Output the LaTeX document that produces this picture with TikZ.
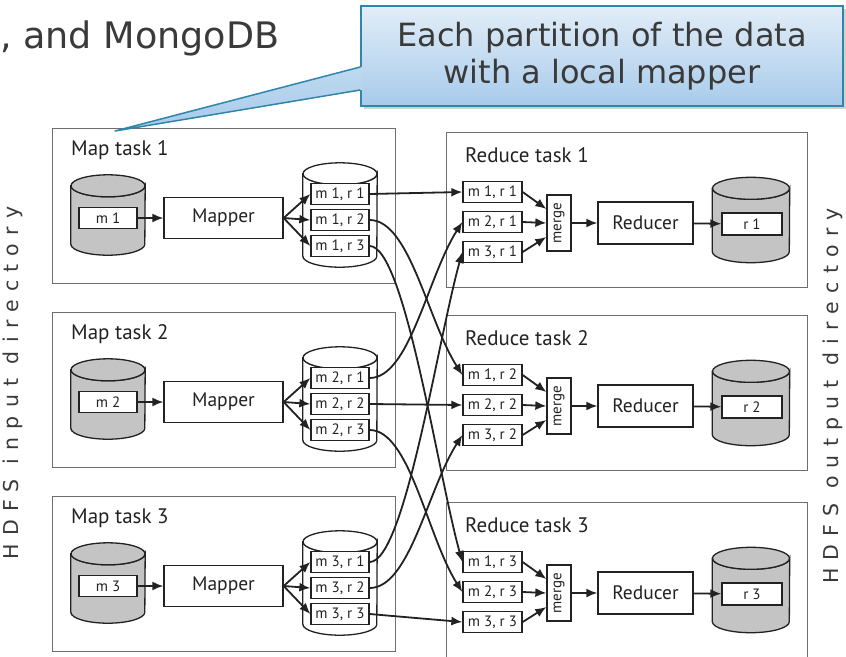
\documentclass[tikz,border=0pt]{standalone}
\usepackage{fontspec}
\setmainfont{PT Sans}
\newfontfamily\slidefont{DejaVu Sans}
\newfontfamily\dirfont[LetterSpace=40]{DejaVu Sans}
\usepackage{tikz}
\usetikzlibrary{arrows.meta,shadows,calc}

\definecolor{ink}{HTML}{222222}
\definecolor{framegray}{HTML}{6E6E6E}
\definecolor{diskgray}{HTML}{C4C4C4}
\definecolor{calloutline}{HTML}{2E86AB}
\definecolor{callouttop}{HTML}{E2EDF8}
\definecolor{calloutbot}{HTML}{A7CBEA}
\definecolor{slidetext}{HTML}{3A3A3A}

% disk drum round a node: #1 node, #2 fill, #3 half width
\newcommand{\diskbody}[3]{%
  \draw[diskline, fill=#2] ($(#1.north west)+(0,11)$) -- ($(#1.south west)+(0,-11)$)
    arc[start angle=180, end angle=0, x radius=#3, y radius=11]
    -- ($(#1.north east)+(0,11)$)
    arc[start angle=0, end angle=180, x radius=#3, y radius=11] -- cycle;
  \draw[diskline, fill=#2] ($(#1.north)+(0,11)$) ellipse [x radius=#3, y radius=11];
}

\begin{document}
\begin{tikzpicture}[
    x=1pt, y=-1pt,
    taskframe/.style={draw=framegray, line width=1.1pt, anchor=north west, minimum width=343pt, minimum height=155pt, inner sep=0pt},
    tasklabel/.style={anchor=west, font=\fontsize{21}{24}\selectfont, text=ink, inner sep=0pt},
    diskspot/.style={inner sep=0pt, minimum width=74pt, minimum height=80pt},
    diskline/.style={draw=ink, line width=1.3pt},
    part/.style={draw=ink, line width=1.3pt, fill=white, minimum width=58pt, minimum height=21pt, inner sep=0pt, font=\fontsize{15}{17}\selectfont, text=ink},
    worker/.style={draw=ink, line width=1.3pt, fill=white, minimum width=119pt, minimum height=41pt, inner sep=0pt, font=\fontsize{19.5}{22}\selectfont, text=ink},
    mergebox/.style={draw=ink, line width=1.3pt, fill=white, minimum width=24pt, minimum height=56pt, inner sep=0pt},
    flow/.style={draw=ink, line width=1.8pt, -{Latex[length=11pt, width=9pt]}},
    dirlabel/.style={rotate=90, font=\dirfont\fontsize{20.5}{24}\selectfont, text=slidetext, inner sep=0pt},
    notebox/.style={draw=calloutline, line width=1.5pt, top color=callouttop, bottom color=calloutbot,
      drop shadow={shadow xshift=3pt, shadow yshift=-3pt, opacity=0.35},
      minimum width=482pt, minimum height=100pt, align=center,
      font=\slidefont\fontsize{32}{37}\selectfont, text=slidetext}
]
\useasboundingbox[fill=white] (0,0) rectangle (846,656);

% slide title remnant and input / output directory labels
\node[font=\slidefont\fontsize{36.5}{40}\selectfont, text=slidetext, anchor=base west, inner sep=0pt] (slidetitle) at (0,48) {, and MongoDB};
\node[dirlabel] (indir) at (13,383) {HDFS input directory};
\node[dirlabel] (outdir) at (833,396) {HDFS output directory};

% Map tasks
\foreach \i/\dy in {1/0, 2/184, 3/368} {
  \node[taskframe] (map\i) at (52,128+\dy) {};
  \node[tasklabel] (maplabel\i) at (71,150+\dy) {Map task \i};
  \node[diskspot] (indisk\i) at (108,215+\dy) {};
  \diskbody{indisk\i}{diskgray}{37}
  \node[part] (inpart\i) at (108,218+\dy) {m \i};
  \node[worker] (mapper\i) at (223.5,218+\dy) {Mapper};
  \node[diskspot, minimum height=104pt] (spill\i) at (340,215+\dy) {};
  \diskbody{spill\i}{white}{37}
  \foreach \j/\oy in {1/194, 2/220, 3/246}
    \node[part] (p\i\j) at (340,\oy+\dy) {m \i, r \j};
  \draw[flow] (inpart\i) -- (mapper\i);
  \foreach \j in {1,2,3}
    \draw[flow] (mapper\i.east) -- (p\i\j.west);
}

% Reduce tasks
\foreach \j/\dy in {1/0, 2/183, 3/370} {
  \node[taskframe, minimum width=361pt] (red\j) at (446,132+\dy) {};
  \node[tasklabel] (redlabel\j) at (465,155+\dy) {Reduce task \j};
  \foreach \i/\oy in {1/192, 2/222, 3/252}
    \node[part, minimum width=59pt] (q\j\i) at (492.5,\oy+\dy) {m \i, r \j};
  \node[mergebox] (merge\j) at (559,223+\dy) {};
  \node[rotate=90, font=\fontsize{15}{17}\selectfont, text=ink, inner sep=0pt] (mergelabel\j) at (merge\j) {merge};
  \node[worker, minimum width=95pt, minimum height=42pt] (reducer\j) at (645.5,223+\dy) {Reducer};
  \node[diskspot, minimum width=77pt, minimum height=85pt] (outdisk\j) at (751,220+\dy) {};
  \diskbody{outdisk\j}{diskgray}{38.5}
  \node[part, minimum width=60pt, minimum height=22pt] (outpart\j) at (752,224+\dy) {r \j};
  \draw[flow] (q\j1.east) -- ($(merge\j.west)+(0,-14)$);
  \draw[flow] (q\j2.east) -- (merge\j.west);
  \draw[flow] (q\j3.east) -- ($(merge\j.west)+(0,14)$);
  \draw[flow] (merge\j) -- (reducer\j);
  \draw[flow] (reducer\j) -- (outpart\j);
}

% Shuffle: partition j of map task i goes to reduce task j
\draw[flow] (p11.east) -- (q11.west);
\draw[flow] (p22.east) -- (q22.west);
\draw[flow] (p33.east) -- (q33.west);
\draw[flow] (p12.east) .. controls +(40,0) and +(-35,-55) .. (q21.west);
\draw[flow] (p13.east) .. controls +(35,0) and +(-25,-90) .. (q31.west);
\draw[flow] (p23.east) .. controls +(40,0) and +(-35,-55) .. (q32.west);
\draw[flow] (p21.east) .. controls +(40,0) and +(-35,55) .. (q12.west);
\draw[flow] (p31.east) .. controls +(35,0) and +(-25,90) .. (q13.west);
\draw[flow] (p32.east) .. controls +(40,0) and +(-35,55) .. (q23.west);

% callout
\coordinate (tip) at (115,131);
\node[notebox] (note) at (602,56) {Each partition of the data\\with a local mapper};
\shade[top color=calloutbot!60!callouttop, bottom color=calloutbot] ($(note.west)+(1.6,11)$) -- (tip) -- ($(note.west)+(1.6,34)$) -- cycle;
\draw[calloutline, line width=1.5pt, line join=round] ($(note.west)+(0,11)$) -- (tip) -- ($(note.west)+(0,34)$);

\end{tikzpicture}
\end{document}
